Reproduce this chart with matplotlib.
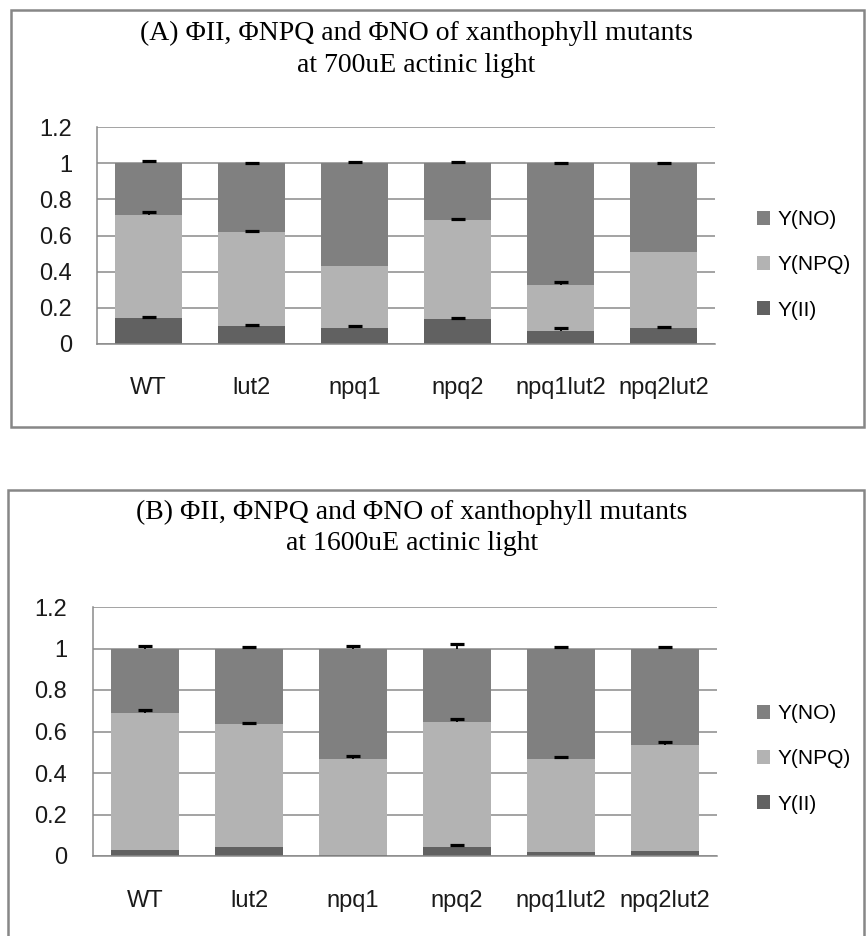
import numpy as np
import matplotlib.pyplot as plt
from matplotlib.patches import Rectangle

# ---------------- data ----------------
groups = ['WT', 'lut2', 'npq1', 'npq2', 'npq1lut2', 'npq2lut2']
series = ['Y(II)', 'Y(NPQ)', 'Y(NO)']
colors = ['#616161', '#b3b3b3', '#808080']

# (A) 700uE
a_II = [0.144, 0.100, 0.089, 0.139, 0.072, 0.089]
a_NPQ = [0.567, 0.522, 0.344, 0.544, 0.256, 0.422]
a_NO = [0.289, 0.378, 0.567, 0.317, 0.672, 0.489]
a_err_II = [0.006, 0.003, 0.012, 0.004, 0.014, 0.003]
a_err_NPQ = [0.020, 0.004, np.nan, 0.008, 0.014, np.nan]
a_err_NO = [0.012, 0.002, 0.004, 0.004, 0.002, 0.002]

# (B) 1600uE
b_II = [0.029, 0.043, 0.005, 0.043, 0.019, 0.024]
b_NPQ = [0.661, 0.593, 0.462, 0.603, 0.448, 0.511]
b_NO = [0.310, 0.364, 0.533, 0.354, 0.533, 0.465]
b_err_II = [np.nan, np.nan, np.nan, 0.008, np.nan, np.nan]
b_err_NPQ = [0.014, 0.006, 0.015, 0.014, 0.008, 0.016]
b_err_NO = [0.010, 0.005, 0.010, 0.020, 0.005, 0.008]

W, H = 866, 936
fig = plt.figure(figsize=(W / 100, H / 100), dpi=100)


def pbox(x0, y0, x1, y1):
    # pixel box (top-left origin) -> figure fraction
    return [x0 / W, 1 - y1 / H, (x1 - x0) / W, (y1 - y0) / H]


def panel(frame, axpos, t1, t2, tx, ty, vals, errs, legy, padx, pady):
    f = pbox(*frame)
    fig.add_artist(Rectangle((f[0], f[1]), f[2], f[3], transform=fig.transFigure,
                             fill=False, ec='#878787', lw=1.8))
    ax = fig.add_axes(pbox(*axpos))
    x = np.arange(len(groups))
    bottom = np.zeros(len(groups))
    tops = []
    handles = []
    for v, c, lab in zip(vals, colors, series):
        h = ax.bar(x, v, 0.645, bottom=bottom, color=c, label=lab, zorder=2)
        handles.append(h)
        bottom = bottom + np.array(v)
        tops.append(bottom.copy())
    for top, e in zip(tops, errs):
        e = np.array(e, dtype=float)
        ax.errorbar(x, top, yerr=[np.zeros_like(e), e], fmt='none', ecolor='black',
                    elinewidth=1.3, capsize=0, zorder=4)
        ax.plot(x, top + e, ls='none', marker='_', ms=9.5, mew=2.3, color='black', zorder=5)

    ax.set_xlim(-0.5, len(groups) - 0.5)
    ax.set_ylim(0, 1.2)
    ax.set_yticks(np.arange(0, 1.21, 0.2))
    ax.set_yticklabels(['0', '0.2', '0.4', '0.6', '0.8', '1', '1.2'])
    ax.set_xticks(x)
    ax.set_xticklabels(groups)
    ax.yaxis.grid(True, color='#8a8a8a', lw=1.1, zorder=0)
    ax.set_axisbelow(True)
    for s in ['top', 'right']:
        ax.spines[s].set_visible(False)
    for s in ['left', 'bottom']:
        ax.spines[s].set_color('#8a8a8a')
        ax.spines[s].set_linewidth(1.1)
    ax.tick_params(axis='both', length=0, labelsize=17)
    ax.tick_params(axis='x', pad=padx)
    ax.tick_params(axis='y', pad=pady)
    for lb in ax.get_xticklabels() + ax.get_yticklabels():
        lb.set_fontfamily('Liberation Sans')
        lb.set_color('#1a1a1a')

    fig.text(tx / W, 1 - ty / H, t1, ha='center', va='center', fontsize=20,
             family='Liberation Serif')
    fig.text(tx / W, 1 - (ty + 32) / H, t2, ha='center', va='center', fontsize=20,
             family='Liberation Serif')

    fig.legend(handles[::-1], series[::-1], loc='center left',
               bbox_to_anchor=(757 / W, 1 - legy / H), frameon=False,
               prop={'family': 'Liberation Sans', 'size': 15},
               handlelength=0.62, handleheight=0.62, handletextpad=0.35,
               labelspacing=1.25, borderpad=0, borderaxespad=0)
    return ax


panel((11, 10, 864, 427), (97, 127, 715, 344),
      '(A) \u03a6II, \u03a6NPQ and \u03a6NO of xanthophyll mutants',
      'at 700uE actinic light', 416, 33,
      [a_II, a_NPQ, a_NO], [a_err_II, a_err_NPQ, a_err_NO], 265, 23.5, 18)

panel((8, 490, 864, 945), (93, 607, 717, 856),
      '(B) \u03a6II, \u03a6NPQ and \u03a6NO of xanthophyll mutants',
      'at 1600uE actinic light', 412, 512,
      [b_II, b_NPQ, b_NO], [b_err_II, b_err_NPQ, b_err_NO], 759, 24.5, 18.7)

fig.savefig('out.png', dpi=100)
